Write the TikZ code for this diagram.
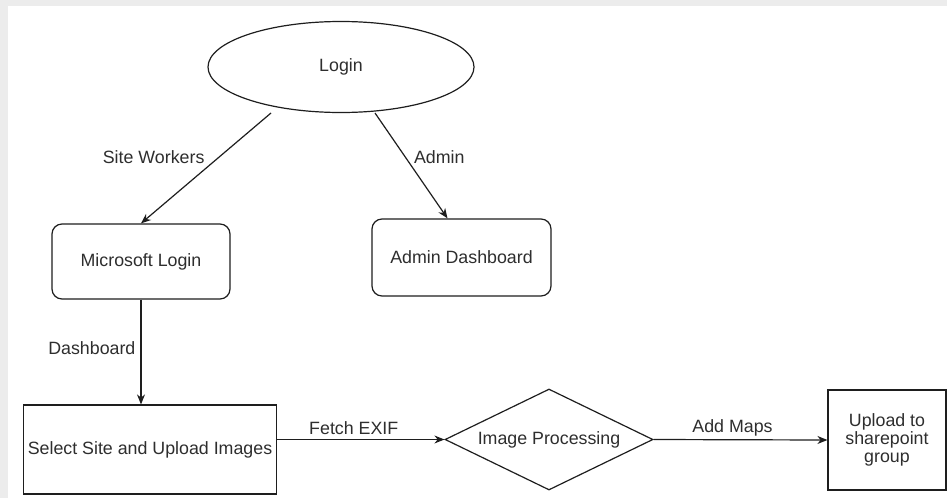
\documentclass[tikz,border=0pt]{standalone}
\usepackage{fontspec}
\setmainfont{Liberation Sans}
\usetikzlibrary{shapes.geometric,arrows.meta}

\definecolor{inkline}{HTML}{1E1E1E}
\definecolor{inktext}{HTML}{2E2E2E}
\definecolor{frame}{HTML}{ECECEC}

\tikzset{
  every node/.style={font=\fontsize{17.8}{18}\selectfont, text=inktext},
  base/.style={draw=inkline, line width=1.2pt, fill=white, inner sep=0pt, align=center},
  roundbox/.style={base, rectangle, rounded corners=10pt},
  sqbox/.style={base, rectangle},
  oval/.style={base, ellipse},
  decision/.style={base, diamond, aspect=2.06},
  flow/.style={draw=inkline, line width=1.2pt, -{Stealth[length=10pt, width=8pt]}},
  lbl/.style={inner sep=0pt}
}

\begin{document}
\begin{tikzpicture}[x=1pt, y=-1pt]
  % page backdrop with a thin grey margin on the top and left
  \fill[frame] (0,0) rectangle (947,498);
  \fill[white] (8,6) rectangle (947,498);
  \useasboundingbox (0,0) rectangle (947,498);

  % nodes
  \node[oval, minimum width=266pt, minimum height=91pt] (login) at (341,67) {Login};
  \node[roundbox, minimum width=178pt, minimum height=75pt] (mslogin) at (141,261.5) {Microsoft Login};
  \node[roundbox, minimum width=179pt, minimum height=77pt] (admin) at (461.5,257.5) {Admin Dashboard};
  \node[sqbox, minimum width=253pt, minimum height=89pt] (select) at (150,449.5) {Select Site and Upload Images};
  \node[decision, minimum width=208pt, minimum height=101pt] (proc) at (549,439.5) {Image Processing};
  \node[sqbox, minimum width=118pt, minimum height=100pt] (upload) at (887,440) {Upload to\\sharepoint\\group};

  % connectors
  \coordinate (lgA) at (271,113);
  \coordinate (lgB) at (375,113);
  \draw[flow] (lgA) -- (mslogin.north)
    node[lbl, pos=0.4, anchor=east, xshift=-14pt] {Site Workers};
  \draw[flow] (lgB) -- ([xshift=-14pt]admin.north)
    node[lbl, pos=0.42, anchor=west, xshift=8pt] {Admin};
  \draw[flow] (mslogin.south) -- (mslogin.south |- select.north)
    node[lbl, midway, anchor=east, xshift=-5pt, yshift=4pt] {Dashboard};
  \draw[flow] (select.east |- proc.west) -- (proc.west)
    node[lbl, midway, above=4pt, xshift=-7pt] {Fetch EXIF};
  \draw[flow] (proc.east) -- (upload.west)
    node[lbl, midway, above=3pt, xshift=-8pt] {Add Maps};
\end{tikzpicture}
\end{document}
